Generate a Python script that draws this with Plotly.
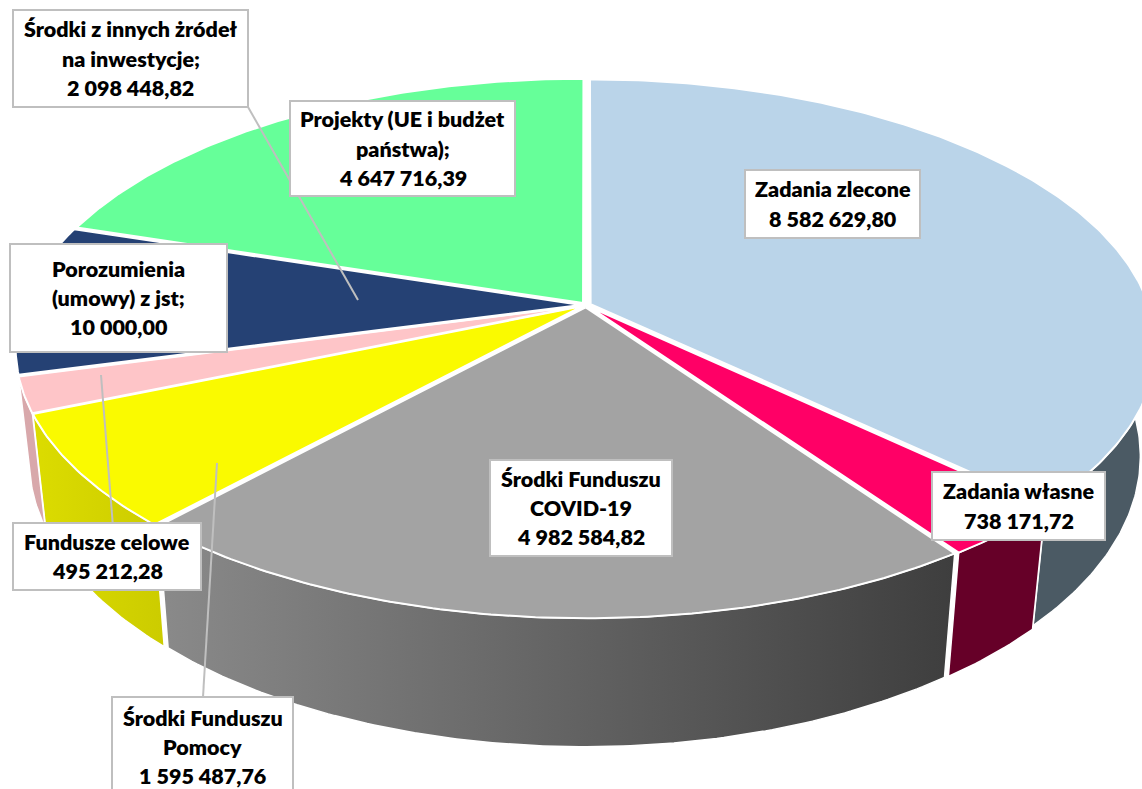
import numpy as np
import plotly.graph_objects as go

categories = ["Zadania zlecone", "Zadania własne", "Środki Funduszu COVID-19",
              "Środki Funduszu Pomocy", "Fundusze celowe",
              "Porozumienia (umowy) z jst", "Środki z innych żródeł na inwestycje",
              "Projekty (UE i budżet państwa)"]
values = [8582629.80, 738171.72, 4982584.82, 1595487.76, 495212.28,
          10000.00, 2098448.82, 4647716.39]
value_labels = ["8 582 629,80", "738 171,72", "4 982 584,82", "1 595 487,76",
                "495 212,28", "10 000,00", "2 098 448,82", "4 647 716,39"]
label_lines = [["Zadania zlecone"], ["Zadania własne"], ["Środki Funduszu", "COVID-19"],
               ["Środki Funduszu", "Pomocy"], ["Fundusze celowe"],
               ["Porozumienia", "(umowy) z jst;"], ["Środki z innych żródeł", "na inwestycje;"],
               ["Projekty (UE i budżet", "państwa);"]]
top_colors = ["#bad4e9", "#ff0066", "#a3a3a3", "#fafa00", "#fec5c8", "#ffffff", "#254174", "#66ff99"]
side_colors = ["#4b5a64", "#660028", None, None, "#d8a8ab"]
boxes = [(745, 170, 920, 238), (932, 472, 1105, 540), (490, 460, 672, 556), (112, 697, 293, 800),
         (13, 523, 201, 590), (10, 244, 227, 352), (13, 10, 248, 107), (290, 101, 515, 196)]
leaders = [(248, 107, 358, 300), (101, 375, 113, 527), (217, 463, 203, 697)]

W, H = 1142, 789
CX, CY, A, B, K = 586.0, 305.0, 260.7, 558.0, 0.159
BOT_SX, BOT_SY, BOT_DROP, BOT_DX = 0.975, 1.07, 106.5, -1.0
EXPLODE = 0.009


def project(u, v, bottom=False):
    d = 1 + K * u
    x, y = B * v / d, -A * u / d
    if bottom:
        return CX + BOT_DX + BOT_SX * x, CY + BOT_DROP + BOT_SY * y
    return CX + x, CY + y


share = np.array(values) / sum(values) * 2 * np.pi
stops = np.concatenate([[0], np.cumsum(share)])
fig = go.Figure()

walls, tops = [], []
for i in range(len(values)):
    t0, t1 = stops[i], stops[i + 1]
    mid = (t0 + t1) / 2
    ou, ov = EXPLODE * np.cos(mid), EXPLODE * np.sin(mid)
    th = np.linspace(t0, t1, max(3, int((t1 - t0) * 90)))
    x, y = project(ou + np.cos(th), ov + np.sin(th))
    ax, ay = project(np.array([ou]), np.array([ov]))
    tops.append((np.r_[ax, x, ax], np.r_[ay, y, ay], top_colors[i]))
    if i < len(side_colors):
        vis = np.clip(th, np.radians(70), None)
        xt, yt = project(ou + np.cos(vis), ov + np.sin(vis))
        xb, yb = project(ou + np.cos(vis), ov + np.sin(vis), bottom=True)
        walls.append((np.r_[xt, xb[::-1], xt[0]], np.r_[yt, yb[::-1], yt[0]], i))

for wx, wy, i in walls:
    kw = dict(x=wx, y=wy, mode="lines", fill="toself", line=dict(color="white", width=1.5),
              hoverinfo="skip", showlegend=False)
    if i == 2:
        kw["fillgradient"] = dict(type="horizontal",
                                  colorscale=[[0, "#8a8a8a"], [1, "#3e3e3e"]])
    elif i == 3:
        kw["fillgradient"] = dict(type="horizontal",
                                  colorscale=[[0, "#dcdc00"], [1, "#cccc00"]])
    else:
        kw["fillcolor"] = side_colors[i]
    fig.add_trace(go.Scatter(**kw))

for i, (tx, ty, c) in enumerate(tops):
    fig.add_trace(go.Scatter(x=tx, y=ty, mode="lines", fill="toself", fillcolor=c,
                             line=dict(color="white", width=2),
                             name=categories[i], text=value_labels[i], hoverinfo="name+text",
                             showlegend=False))

shapes = []
for x0, y0, x1, y1 in leaders:
    shapes.append(dict(type="line", x0=x0, y0=y0, x1=x1, y1=y1, layer="above",
                       line=dict(color="#bfbfbf", width=2)))
for x0, y0, x1, y1 in boxes:
    shapes.append(dict(type="rect", x0=x0, y0=y0, x1=x1, y1=y1, layer="above",
                       fillcolor="white", line=dict(color="#bfbfbf", width=2)))

annotations = []
LINE = 29.3
for i, (x0, y0, x1, y1) in enumerate(boxes):
    lines = label_lines[i] + [value_labels[i]]
    cy = y0 + 50 if i == 3 else (y0 + y1) / 2
    for j, text in enumerate(lines):
        annotations.append(dict(x=(x0 + x1) / 2, y=cy + (j - (len(lines) - 1) / 2) * LINE,
                                text=text, showarrow=False, xanchor="center", yanchor="middle",
                                font=dict(family="Lato, Carlito, sans-serif", size=21.5,
                                          color="black", weight=800)))

fig.update_layout(width=W, height=H, margin=dict(l=0, r=0, t=0, b=0), autosize=False,
                  paper_bgcolor="white", plot_bgcolor="white", showlegend=False,
                  shapes=shapes, annotations=annotations,
                  xaxis=dict(range=[0, W], visible=False, fixedrange=True),
                  yaxis=dict(range=[H, 0], visible=False, fixedrange=True))
fig.write_html("out.html", config=dict(displayModeBar=False),
               post_script="document.body.style.margin='0';document.body.style.overflow='hidden';")
